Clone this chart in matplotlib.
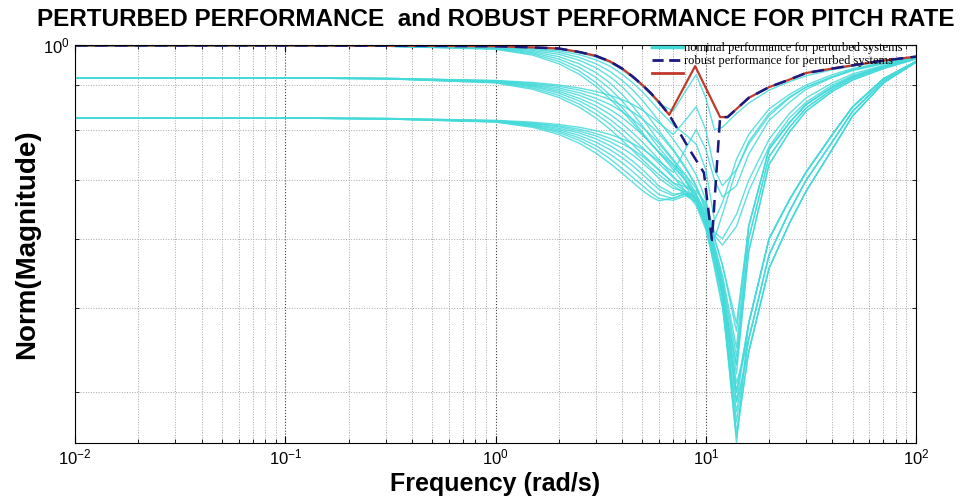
import numpy as np
import matplotlib
matplotlib.use("Agg")
import matplotlib.pyplot as plt
from matplotlib.lines import Line2D
from matplotlib.ticker import NullFormatter, LogFormatterSciNotation

# frequency grid (rad/s) shared by the perturbed responses
freq = [0.01, 0.1, 0.3, 1, 1.5, 2, 2.5, 3, 3.5, 4, 4.5, 5, 5.5, 6, 7, 8, 9, 10, 11, 12,
        14, 16, 20, 25, 30, 40, 50, 70, 100]

# perturbed responses, low-frequency gain ~1.0
pert_hi = [
    [0.998, 0.998, 0.998, 0.996, 0.993, 0.989, 0.980, 0.969, 0.955, 0.937, 0.917, 0.897, 0.877, 0.857, 0.840, 0.885, 0.925, 0.870, 0.800, 0.805, 0.835, 0.858, 0.888, 0.908, 0.922, 0.937, 0.946, 0.958, 0.969],
    [0.998, 0.998, 0.998, 0.995, 0.991, 0.985, 0.975, 0.962, 0.946, 0.926, 0.905, 0.884, 0.862, 0.842, 0.810, 0.790, 0.770, 0.720, 0.630, 0.660, 0.740, 0.790, 0.845, 0.878, 0.900, 0.925, 0.940, 0.955, 0.968],
    [0.998, 0.998, 0.997, 0.994, 0.989, 0.981, 0.968, 0.952, 0.933, 0.911, 0.888, 0.864, 0.840, 0.818, 0.780, 0.745, 0.710, 0.665, 0.600, 0.560, 0.480, 0.620, 0.760, 0.815, 0.855, 0.895, 0.920, 0.945, 0.966],
    [0.998, 0.998, 0.997, 0.993, 0.986, 0.976, 0.961, 0.942, 0.920, 0.896, 0.870, 0.845, 0.820, 0.797, 0.760, 0.725, 0.690, 0.645, 0.585, 0.530, 0.400, 0.480, 0.600, 0.665, 0.715, 0.790, 0.850, 0.915, 0.958],
    [0.998, 0.998, 0.997, 0.992, 0.983, 0.970, 0.952, 0.930, 0.905, 0.878, 0.851, 0.824, 0.798, 0.775, 0.740, 0.710, 0.675, 0.635, 0.575, 0.515, 0.360, 0.445, 0.555, 0.625, 0.680, 0.760, 0.830, 0.905, 0.956],
    [0.998, 0.998, 0.997, 0.991, 0.980, 0.964, 0.943, 0.918, 0.891, 0.863, 0.835, 0.808, 0.783, 0.762, 0.730, 0.700, 0.665, 0.625, 0.565, 0.515, 0.430, 0.600, 0.745, 0.805, 0.847, 0.890, 0.916, 0.943, 0.965],
    [0.998, 0.998, 0.997, 0.990, 0.977, 0.958, 0.934, 0.906, 0.877, 0.848, 0.820, 0.794, 0.771, 0.752, 0.725, 0.700, 0.665, 0.620, 0.555, 0.500, 0.380, 0.460, 0.575, 0.645, 0.700, 0.775, 0.840, 0.910, 0.957],
    [0.998, 0.998, 0.997, 0.989, 0.974, 0.952, 0.926, 0.897, 0.868, 0.840, 0.814, 0.790, 0.770, 0.754, 0.730, 0.710, 0.685, 0.655, 0.600, 0.640, 0.720, 0.775, 0.835, 0.872, 0.895, 0.920, 0.937, 0.953, 0.967],
]

# perturbed responses, low-frequency gain ~0.917
pert_mid = [
    [0.917, 0.917, 0.916, 0.911, 0.906, 0.900, 0.893, 0.885, 0.876, 0.866, 0.855, 0.842, 0.828, 0.814, 0.790, 0.820, 0.850, 0.800, 0.720, 0.690, 0.720, 0.770, 0.830, 0.870, 0.895, 0.920, 0.937, 0.953, 0.967],
    [0.917, 0.917, 0.916, 0.910, 0.904, 0.897, 0.888, 0.878, 0.866, 0.853, 0.838, 0.823, 0.807, 0.791, 0.757, 0.722, 0.690, 0.650, 0.600, 0.560, 0.470, 0.620, 0.760, 0.815, 0.855, 0.895, 0.920, 0.945, 0.966],
    [0.917, 0.917, 0.916, 0.910, 0.902, 0.893, 0.882, 0.869, 0.855, 0.839, 0.822, 0.805, 0.788, 0.771, 0.737, 0.703, 0.672, 0.632, 0.580, 0.530, 0.420, 0.580, 0.730, 0.795, 0.840, 0.885, 0.912, 0.940, 0.964],
    [0.917, 0.917, 0.915, 0.909, 0.900, 0.889, 0.876, 0.861, 0.844, 0.826, 0.807, 0.789, 0.771, 0.753, 0.720, 0.690, 0.660, 0.620, 0.570, 0.520, 0.390, 0.480, 0.600, 0.665, 0.715, 0.790, 0.850, 0.915, 0.958],
    [0.917, 0.917, 0.915, 0.908, 0.898, 0.885, 0.869, 0.852, 0.833, 0.813, 0.793, 0.774, 0.756, 0.739, 0.707, 0.680, 0.655, 0.615, 0.560, 0.505, 0.355, 0.445, 0.555, 0.625, 0.680, 0.760, 0.830, 0.905, 0.956],
    [0.917, 0.917, 0.915, 0.907, 0.896, 0.881, 0.863, 0.843, 0.822, 0.801, 0.781, 0.763, 0.746, 0.731, 0.705, 0.690, 0.680, 0.660, 0.610, 0.600, 0.640, 0.700, 0.780, 0.835, 0.870, 0.905, 0.927, 0.948, 0.966],
    [0.917, 0.917, 0.915, 0.906, 0.893, 0.876, 0.856, 0.834, 0.812, 0.790, 0.769, 0.750, 0.734, 0.720, 0.695, 0.680, 0.665, 0.635, 0.585, 0.540, 0.440, 0.600, 0.745, 0.805, 0.847, 0.890, 0.916, 0.943, 0.965],
    [0.917, 0.917, 0.915, 0.905, 0.890, 0.871, 0.849, 0.825, 0.801, 0.778, 0.757, 0.739, 0.723, 0.710, 0.690, 0.675, 0.660, 0.625, 0.575, 0.525, 0.410, 0.460, 0.575, 0.645, 0.700, 0.775, 0.840, 0.910, 0.957],
]

# perturbed responses, low-frequency gain ~0.825
pert_lo = [
    [0.825, 0.825, 0.824, 0.820, 0.816, 0.811, 0.805, 0.798, 0.790, 0.781, 0.771, 0.760, 0.748, 0.736, 0.715, 0.760, 0.800, 0.760, 0.700, 0.670, 0.690, 0.750, 0.820, 0.860, 0.890, 0.918, 0.935, 0.952, 0.967],
    [0.825, 0.825, 0.824, 0.819, 0.814, 0.808, 0.801, 0.792, 0.782, 0.771, 0.759, 0.746, 0.732, 0.718, 0.695, 0.688, 0.675, 0.640, 0.590, 0.545, 0.450, 0.620, 0.760, 0.815, 0.855, 0.895, 0.920, 0.945, 0.966],
    [0.825, 0.825, 0.824, 0.819, 0.813, 0.806, 0.797, 0.787, 0.775, 0.762, 0.748, 0.733, 0.718, 0.703, 0.685, 0.680, 0.668, 0.632, 0.580, 0.530, 0.400, 0.480, 0.600, 0.665, 0.715, 0.790, 0.850, 0.915, 0.958],
    [0.825, 0.825, 0.823, 0.818, 0.811, 0.803, 0.793, 0.781, 0.767, 0.752, 0.736, 0.720, 0.704, 0.689, 0.675, 0.676, 0.665, 0.628, 0.575, 0.520, 0.370, 0.460, 0.575, 0.645, 0.700, 0.775, 0.840, 0.910, 0.957],
    [0.825, 0.825, 0.823, 0.818, 0.810, 0.800, 0.788, 0.774, 0.759, 0.743, 0.727, 0.711, 0.696, 0.683, 0.672, 0.680, 0.672, 0.645, 0.605, 0.590, 0.620, 0.680, 0.765, 0.825, 0.860, 0.900, 0.923, 0.946, 0.966],
    [0.825, 0.825, 0.823, 0.817, 0.808, 0.797, 0.783, 0.767, 0.750, 0.733, 0.716, 0.700, 0.686, 0.674, 0.667, 0.676, 0.668, 0.636, 0.585, 0.535, 0.430, 0.580, 0.730, 0.795, 0.840, 0.885, 0.912, 0.940, 0.964],
    [0.825, 0.825, 0.823, 0.817, 0.807, 0.794, 0.778, 0.760, 0.741, 0.722, 0.705, 0.690, 0.677, 0.667, 0.664, 0.672, 0.662, 0.628, 0.578, 0.525, 0.390, 0.445, 0.555, 0.625, 0.680, 0.760, 0.830, 0.905, 0.956],
    [0.825, 0.825, 0.823, 0.816, 0.805, 0.790, 0.772, 0.752, 0.732, 0.713, 0.696, 0.681, 0.670, 0.663, 0.668, 0.675, 0.660, 0.622, 0.570, 0.515, 0.350, 0.480, 0.600, 0.665, 0.715, 0.790, 0.850, 0.915, 0.958],
]

# upper envelope (red) and robust performance (dashed navy)
red_f = [0.01, 0.1, 0.5, 1, 1.5, 2, 2.5, 3, 3.5, 4, 4.5, 5, 5.5, 6, 6.7, 8.9, 11.7, 12.7,
         16, 20, 25, 30, 40, 50, 70, 100]
red_m = [0.999, 0.999, 0.998, 0.997, 0.994, 0.991, 0.982, 0.972, 0.958, 0.940, 0.920, 0.900,
         0.880, 0.860, 0.832, 0.946, 0.827, 0.827, 0.870, 0.895, 0.913, 0.929, 0.940, 0.948,
         0.960, 0.970]

rob_f = [0.01, 0.1, 0.5, 1, 1.5, 2, 2.5, 3, 3.5, 4, 4.5, 5, 5.5, 6, 6.7, 8.4, 9.8, 10.7,
         11.7, 12.7, 16, 20, 25, 30, 40, 50, 70, 100]
rob_m = [0.999, 0.999, 0.998, 0.997, 0.994, 0.991, 0.982, 0.972, 0.958, 0.940, 0.920, 0.900,
         0.880, 0.860, 0.832, 0.758, 0.714, 0.598, 0.827, 0.827, 0.870, 0.895, 0.913, 0.929,
         0.940, 0.948, 0.960, 0.970]

cyan = '#45dada'
red = '#c0392b'
navy = '#1a1a80'

fig = plt.figure(figsize=(9.71, 5.01), dpi=100)
ax = fig.add_axes([0.0772, 0.1158, 0.8662, 0.7942])

for group in (pert_hi, pert_mid, pert_lo):
    for mag in group:
        ax.plot(freq, mag, color=cyan, lw=1.0, alpha=0.85)

ax.plot(red_f, red_m, color=red, lw=1.6)
ax.plot(rob_f, rob_m, color=navy, lw=1.8, ls=(0, (5, 3)))

ax.set_xscale('log')
ax.set_yscale('log')
ax.set_xlim(0.01, 100)
ax.set_ylim(0.35, 1.0)

ax.yaxis.set_major_formatter(LogFormatterSciNotation())
ax.yaxis.set_minor_formatter(NullFormatter())
ax.xaxis.set_minor_formatter(NullFormatter())

ax.grid(which='major', ls=':', color='0.25', lw=0.8)
ax.grid(which='minor', ls=':', color='0.65', lw=0.7)
ax.tick_params(which='both', direction='in', top=True, right=True, labelsize=12)
ax.tick_params(which='major', length=5)
ax.tick_params(which='minor', length=3)
for lbl in ax.get_xticklabels() + ax.get_yticklabels():
    lbl.set_family('Liberation Sans')

ax.set_title('PERTURBED PERFORMANCE  and ROBUST PERFORMANCE FOR PITCH RATE',
             fontsize=17.5, fontweight='bold', family='Liberation Sans', pad=14)
ax.set_xlabel('Frequency (rad/s)', fontsize=18, fontweight='bold', family='Liberation Sans', labelpad=3)
ax.set_ylabel('Norm(Magnitude)', fontsize=20, fontweight='bold', family='Liberation Sans', labelpad=2)

handles = [Line2D([], [], color=cyan, lw=2.5),
           Line2D([], [], color=navy, lw=2, ls=(0, (4, 2))),
           Line2D([], [], color=red, lw=2)]
labels = ['nominal performance for perturbed systems',
          'robust performance for perturbed systems', '']
leg = ax.legend(handles, labels, loc='upper right', bbox_to_anchor=(0.995, 1.03),
                frameon=False, prop={'family': 'Liberation Serif', 'size': 9},
                handlelength=2.5, handletextpad=0.1, labelspacing=0.1, borderpad=0.2)

fig.savefig('out.png', dpi=100)
